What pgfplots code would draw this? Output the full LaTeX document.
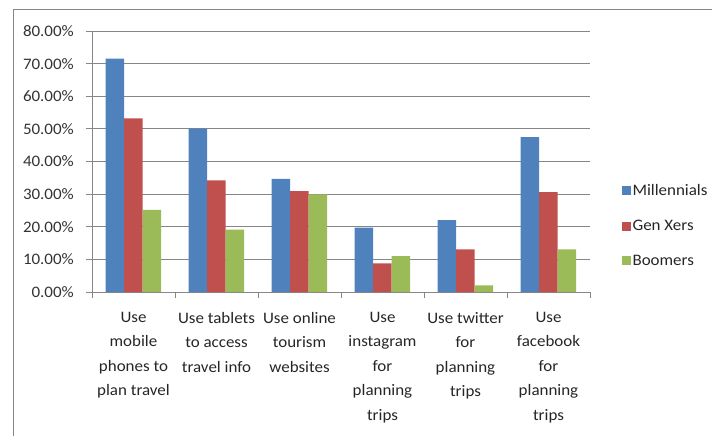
\documentclass[border=0pt]{standalone}
\usepackage{fontspec}
\setmainfont{Carlito}[FakeStretch=1.06]
\usepackage{pgfplots}
\pgfplotsset{compat=1.18}

\definecolor{xlblue}{HTML}{4F81BD}
\definecolor{xlred}{HTML}{C0504D}
\definecolor{xlgreen}{HTML}{9BBB59}
\definecolor{xlgray}{RGB}{134,134,134}

\begin{document}
\begin{tikzpicture}
\begin{axis}[
scale only axis,
width=498bp, height=261bp,
at={(0,0)}, anchor=south west,
ybar=0pt, bar width=18.5bp,
xmin=-0.5, xmax=5.5,
ymin=0, ymax=80,
axis x line*=bottom, axis y line*=left,
axis line style={xlgray, line width=0.8pt, -},
xtick={0,...,5},
xticklabels={%
Use\\mobile\\phones to\\plan travel,
Use tablets\\to access\\travel info,
Use online\\tourism\\websites,
Use\\instagram\\for\\planning\\trips,
Use twitter\\for\\planning\\trips,
Use\\facebook\\for\\planning\\trips},
major x tick style={draw=none},
minor xtick={-0.5,0.5,...,5.5},
minor x tick style={xlgray, line width=0.8pt},
minor tick length=6bp,
ytick={0,10,...,80},
major y tick style={xlgray, line width=0.8pt},
major tick length=6bp,
tick align=outside,
ymajorgrids,
y grid style={xlgray, line width=0.8pt},
/pgf/number format/assume math mode=true,
yticklabel={\pgfmathprintnumber[fixed,fixed zerofill,precision=2]{\tick}\%},
yticklabel style={anchor=east, inner sep=0pt, xshift=-12bp, font=\fontsize{16bp}{19bp}\selectfont, text=black!80},
xticklabel style={anchor=north, inner sep=0pt, yshift=-14bp, align=center, text=black!85,
  font=\fontsize{16bp}{24.5bp}\selectfont},
legend style={at={(1.064,0.254)}, anchor=west, draw=none, fill=none,
  inner sep=0pt, font=\fontsize{16bp}{19bp}\selectfont, text=black!85, row sep=19bp,
  legend cell align=left},
legend image code/.code={\fill[#1] (0bp,-4.5bp) rectangle (8.5bp,4.5bp);},
]
\addplot[fill=xlblue, draw=none] coordinates {(0,71.5) (1,50.1) (2,34.7) (3,19.7) (4,22.0) (5,47.5)};
\addlegendentry{Millennials}
\addplot[fill=xlred, draw=none] coordinates {(0,53.2) (1,34.2) (2,30.9) (3,8.8) (4,13.1) (5,30.6)};
\addlegendentry{Gen Xers}
\addplot[fill=xlgreen, draw=none] coordinates {(0,25.2) (1,19.1) (2,29.9) (3,11.0) (4,2.0) (5,13.1)};
\addlegendentry{Boomers}
\end{axis}
\draw[xlgray, line width=0.8pt] (-79bp,-150bp) -- (-79bp,283bp) -- (630bp,283bp);
\pgfresetboundingbox
\path[use as bounding box] (-92bp,-144bp) rectangle (620bp,292bp);
\end{tikzpicture}
\end{document}
